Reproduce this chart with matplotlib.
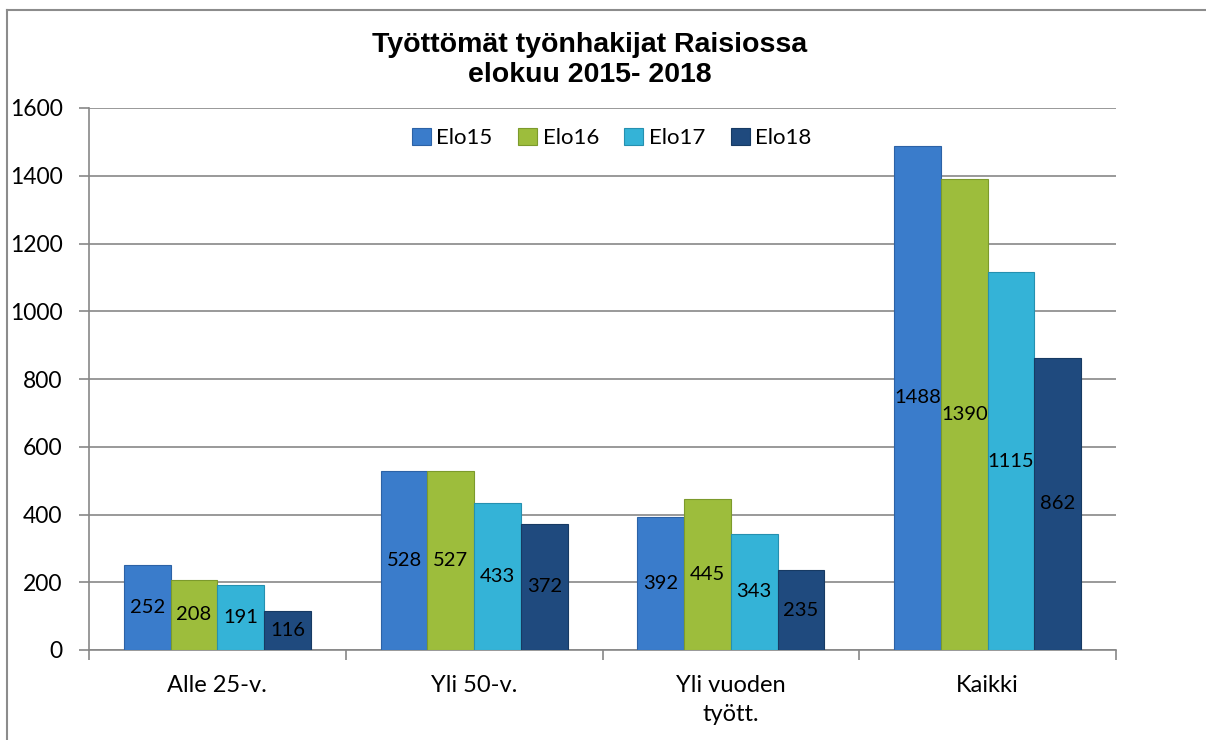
import matplotlib.pyplot as plt
import numpy as np

categories = ['Alle 25-v.', 'Yli 50-v.', 'Yli vuoden\ntyött.', 'Kaikki']
series = ['Elo15', 'Elo16', 'Elo17', 'Elo18']
elo15 = [252, 528, 392, 1488]
elo16 = [208, 527, 445, 1390]
elo17 = [191, 433, 343, 1115]
elo18 = [116, 372, 235, 862]
colors = ['#3a7ccb', '#9dbd3c', '#34b3d7', '#1f4a7e']
edges = ['#2c62a6', '#7c9a2c', '#2590b0', '#173a63']

plt.rcParams['font.family'] = ['Lato', 'DejaVu Sans']

fig = plt.figure(figsize=(12.06, 7.4), dpi=100)
ax = fig.add_axes([89 / 1206, 1 - 650 / 740, (1116 - 89) / 1206, (650 - 108) / 740])

x = np.arange(len(categories))
w = 0.182
values = [elo15, elo16, elo17, elo18]
for i, (name, vals) in enumerate(zip(series, values)):
    pos = x + (i - 1.5) * w
    bars = ax.bar(pos, vals, w, color=colors[i], edgecolor=edges[i], linewidth=0.8,
                  label=name, zorder=3)
    ax.bar_label(bars, labels=[str(v) for v in vals], label_type='center',
                 fontsize=14.5, color='black')

ax.set_xlim(-0.5, 3.5)
ax.set_ylim(0, 1600)
ax.set_yticks(range(0, 1601, 200))
ax.yaxis.grid(True, color='#878787', linewidth=1.2, zorder=0)
ax.set_xticks(x)
ax.set_xticklabels(categories, fontsize=17, linespacing=1.45)
ax.set_xticks(np.arange(-0.5, 4, 1), minor=True)
ax.tick_params(axis='x', which='major', length=0, pad=18)
ax.tick_params(axis='x', which='minor', length=7, color='#878787', width=1.2)
ax.tick_params(axis='y', length=7, color='#878787', width=1.2, labelsize=16.5, pad=12)

for s in ['top', 'right']:
    ax.spines[s].set_visible(False)
for s in ['left', 'bottom']:
    ax.spines[s].set_color('#878787')
    ax.spines[s].set_linewidth(1.2)

ax.legend(loc='center', bbox_to_anchor=(0.509, 0.945), ncol=4, frameon=False,
          fontsize=16, handlelength=0.85, handleheight=0.85, handletextpad=0.25,
          columnspacing=1.15)

fig.text(590 / 1206, 1 - 45 / 740, 'Työttömät työnhakijat Raisiossa',
         ha='center', va='center', fontsize=20.5, fontweight='bold',
         family='Liberation Sans')
fig.text(590 / 1206, 1 - 75 / 740, 'elokuu 2015- 2018',
         ha='center', va='center', fontsize=20.5, fontweight='bold',
         family='Liberation Sans')

# outer chart frame (top and left edges visible)
fig.add_artist(plt.Line2D([7 / 1206, 1], [1 - 9.5 / 740, 1 - 9.5 / 740],
                          color='#8c8c8c', linewidth=1.5, transform=fig.transFigure))
fig.add_artist(plt.Line2D([7 / 1206, 7 / 1206], [0, 1 - 9.5 / 740],
                          color='#8c8c8c', linewidth=1.5, transform=fig.transFigure))

fig.savefig('out.png', dpi=100)
